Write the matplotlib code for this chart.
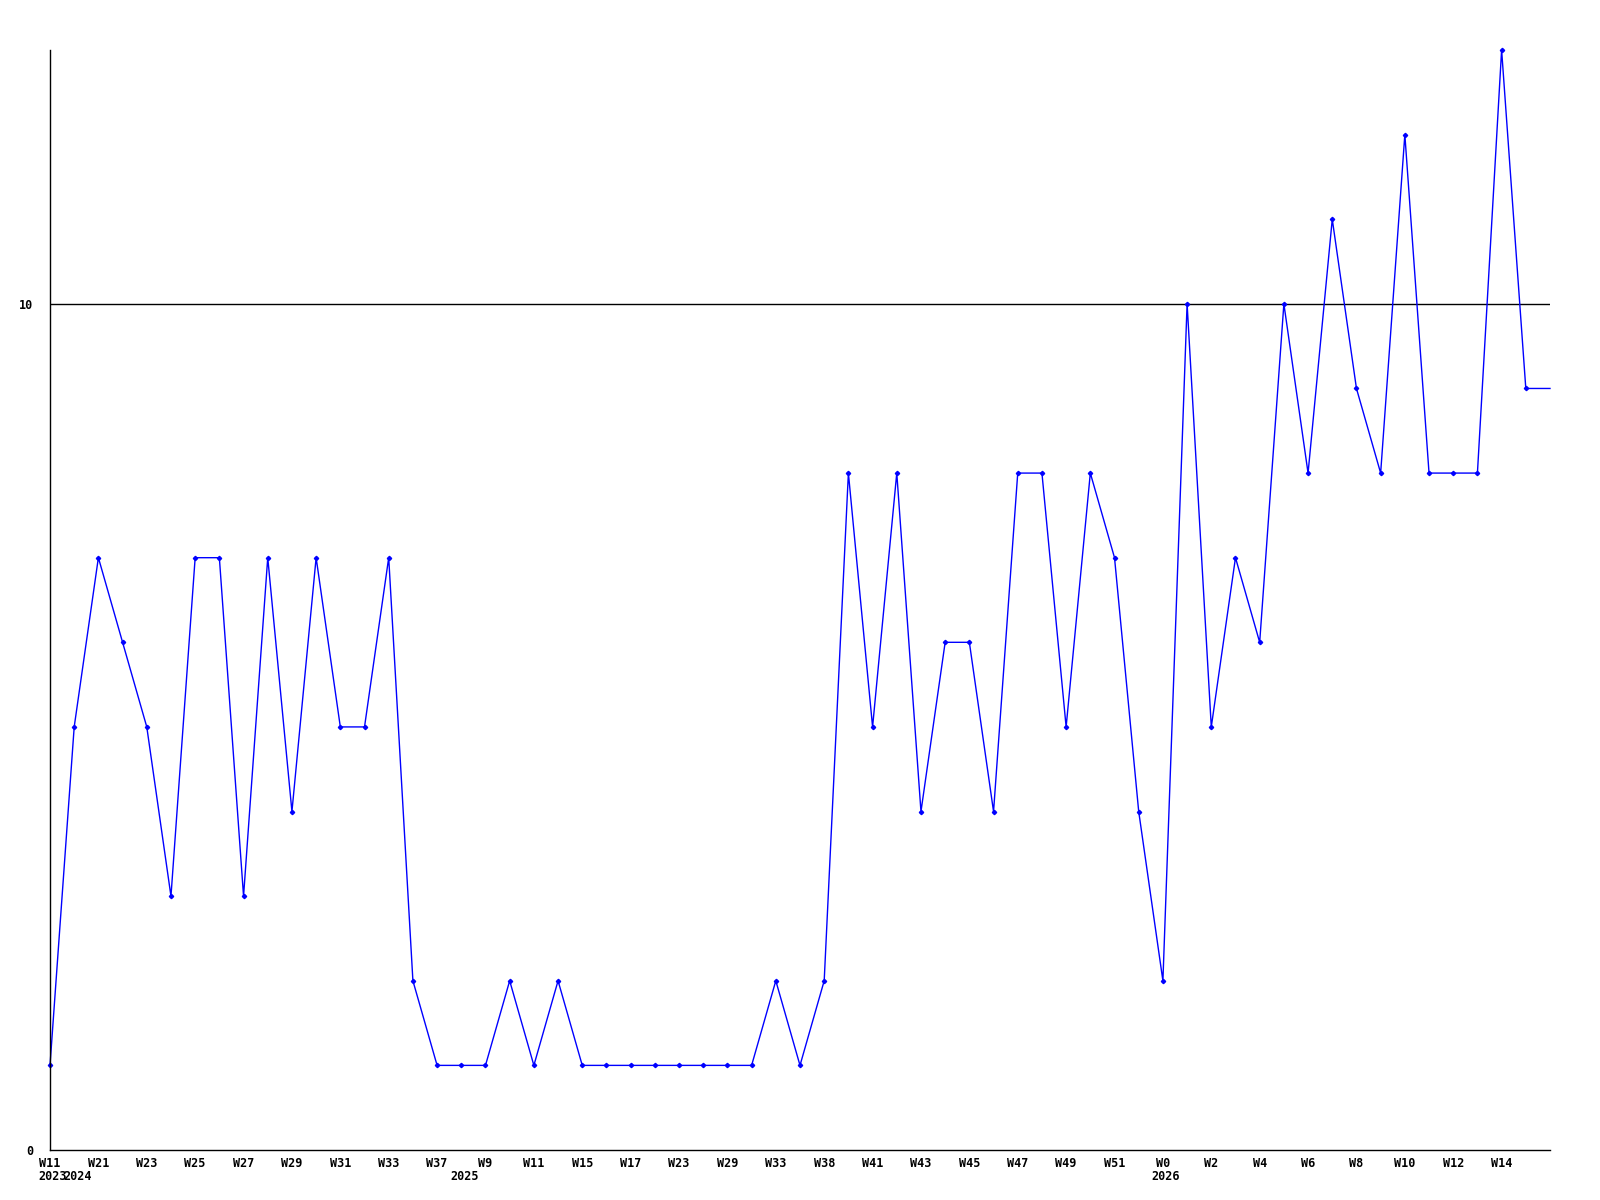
import matplotlib
matplotlib.use("Agg")
import matplotlib.pyplot as plt

# weekly counts; the last value only carries the line out to the right edge
values = [1, 5, 7, 6, 5, 3, 7, 7, 3, 7, 4, 7, 5, 5, 7, 2, 1, 1, 1, 2,
          1, 2, 1, 1, 1, 1, 1, 1, 1, 1, 2, 1, 2, 8, 5, 8, 4, 6, 6, 4,
          8, 8, 5, 8, 7, 4, 2, 10, 5, 7, 6, 10, 8, 11, 9, 8, 12, 8, 8, 8,
          13, 9, 9]

week_labels = ["W11", "W21", "W23", "W25", "W27", "W29", "W31", "W33",
               "W37", "W9", "W11", "W15", "W17", "W23", "W29", "W33",
               "W38", "W41", "W43", "W45", "W47", "W49", "W51", "W0",
               "W2", "W4", "W6", "W8", "W10", "W12", "W14"]
week_pos = list(range(0, 62, 2))

year_labels = ["2023", "2024", "2025", "2026"]
year_pos = [0, 1, 17, 46]

FONT = dict(family="DejaVu Sans Mono", fontweight="bold", fontsize=8.5)

fig = plt.figure(figsize=(16, 12), dpi=100)
ax = fig.add_axes([50 / 1600, 50 / 1200, 1500 / 1600, 1100 / 1200])

x = list(range(len(values)))
ax.plot(x, values, color="#0000ff", linewidth=1.0, marker="D",
        markersize=2.2, markevery=list(range(len(values) - 1)),
        clip_on=False)

ax.axhline(10, color="black", linewidth=1.0, zorder=1)

ax.set_xlim(0, len(values) - 1)
ax.set_ylim(0, 13)

for side in ("top", "right"):
    ax.spines[side].set_visible(False)
for side in ("left", "bottom"):
    ax.spines[side].set_linewidth(1.0)

ax.set_yticks([0, 10])
ax.set_yticklabels(["0", "10"], **FONT)
ax.tick_params(axis="y", length=0, pad=12)

ax.set_xticks(week_pos)
ax.set_xticklabels(week_labels, **FONT)
ax.tick_params(axis="x", length=0, pad=5)

for lab, pos in zip(year_labels, year_pos):
    ax.annotate(lab, xy=(pos, 0), xycoords="data", xytext=(3, -27),
                textcoords="offset pixels", ha="center", va="center",
                annotation_clip=False, **FONT)

fig.savefig("out.png", dpi=100, facecolor="white")
